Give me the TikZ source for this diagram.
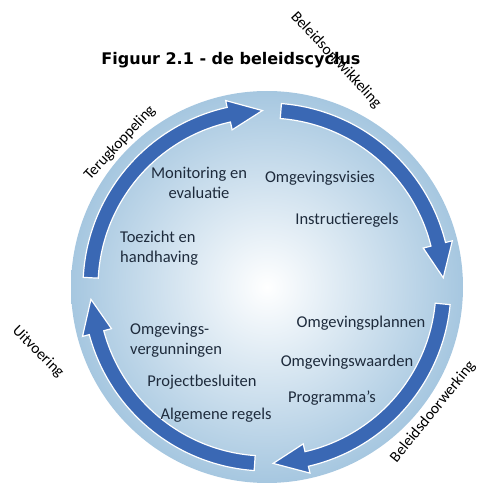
\documentclass[tikz,border=0pt]{standalone}
\usepackage{fontspec}
\setmainfont{Carlito}
\newfontfamily\titlefont{DejaVu Sans}
\usepackage{tikz}
\usetikzlibrary{positioning}

\definecolor{cyclefill}{HTML}{A6C7E0}
\definecolor{arrowblue}{HTML}{3A68B4}
\definecolor{labeltext}{HTML}{1E2B3C}

% one arrow of the cycle: start angle, tip angle
\newcommand{\cyclearrow}[2]{%
  \pgfmathsetmacro{\headbase}{#2+11}
  \fill[arrowblue, draw=white, line width=1.2pt]
    (#1:184) arc[start angle=#1, end angle=\headbase, radius=184]
    -- (\headbase:191) -- (#2:176.5) -- (\headbase:161) -- (\headbase:169)
    arc[start angle=\headbase, end angle=#1, radius=169] -- cycle;
}

\begin{document}
\begin{tikzpicture}[x=1pt, y=1pt,
  inner/.style={text=labeltext, font=\fontsize{16.5}{20}\selectfont, inner sep=0pt, align=center},
  outer/.style={text=black, font=\fontsize{15.5}{18}\selectfont, inner sep=0pt}]
\useasboundingbox (0,0) rectangle (480,488);

\coordinate (c) at (267,201);
\shade[inner color=white, outer color=cyclefill] (c) circle[radius=196];

\begin{scope}[shift={(c)}]
\cyclearrow{85.5}{3}
\cyclearrow{-5.5}{-88}
\cyclearrow{-94}{-176}
\cyclearrow{177}{91.5}
\end{scope}

\node[font=\titlefont\bfseries\fontsize{16}{18}\selectfont] (title) at (231,428) {Figuur 2.1 - de beleidscyclus};

\node[outer, rotate=-47] (ontw) at (336,428) {Beleidsontwikkeling};
\node[outer, rotate=51] (doorw) at (433,76) {Beleidsdoorwerking};
\node[outer, rotate=-45] (uitv) at (38,136) {Uitvoering};
\node[outer, rotate=47] (terug) at (120,345) {Terugkoppeling};

\node[inner] (monitor) at (199,305) {Monitoring en\\evaluatie};
\node[inner] (visies) at (320,310) {Omgevingsvisies};
\node[inner] (instr) at (347,268) {Instructieregels};
\node[inner, align=left, anchor=west] (toezicht) at (120,240) {Toezicht en\\handhaving};
\node[inner, align=left, anchor=west] (vergun) at (130,148) {Omgevings-\\vergunningen};
\node[inner] (project) at (202,106) {Projectbesluiten};
\node[inner] (algemeen) at (216,73) {Algemene regels};
\node[inner] (plannen) at (361,165) {Omgevingsplannen};
\node[inner] (waarden) at (347,126) {Omgevingswaarden};
\node[inner] (progr) at (332,90) {Programma's};
\end{tikzpicture}
\end{document}
